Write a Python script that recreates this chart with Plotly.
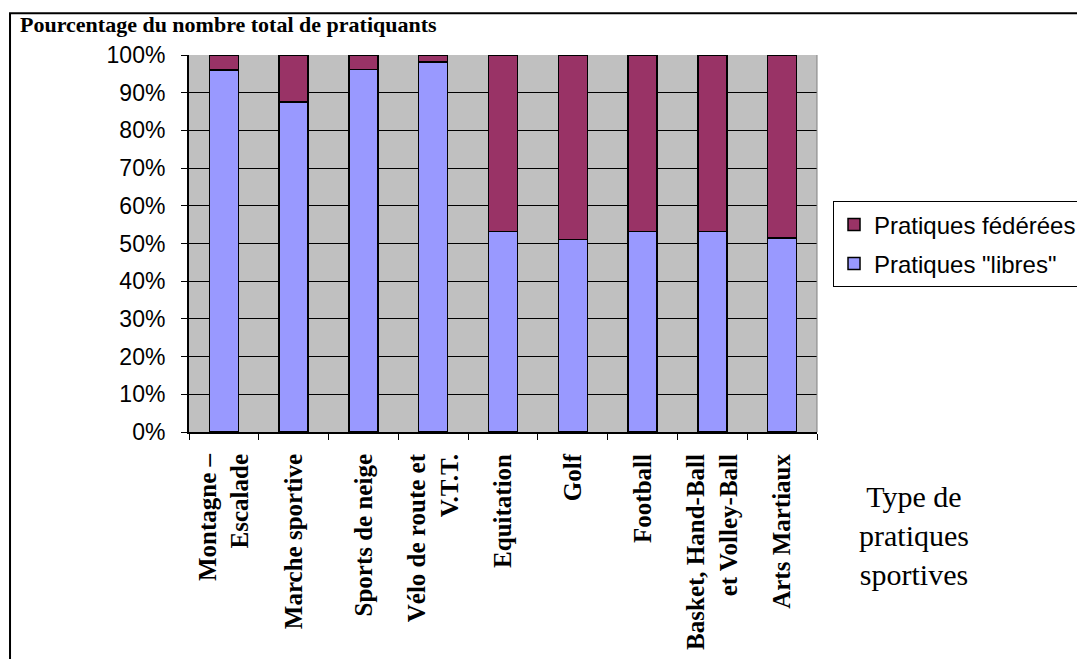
import plotly.graph_objects as go

categories = [
    "Montagne –<br>Escalade",
    "Marche sportive",
    "Sports de neige",
    "Vélo de route et<br>V.T.T.",
    "Equitation",
    "Golf",
    "Football",
    "Basket, Hand-Ball<br>et Volley-Ball",
    "Arts Martiaux",
]
libres = [96.0, 87.6, 96.2, 98.2, 53.2, 51.1, 53.2, 53.2, 51.5]
federees = [4.0, 12.4, 3.8, 1.8, 46.8, 48.9, 46.8, 46.8, 48.5]
y_ticks = [0, 10, 20, 30, 40, 50, 60, 70, 80, 90, 100]
y_tick_labels = ["0%", "10%", "20%", "30%", "40%", "50%", "60%", "70%", "80%", "90%", "100%"]

SERIF = "Liberation Serif, Times New Roman, serif"
SANS = "Liberation Sans, Arial, sans-serif"

fig = go.Figure()
fig.add_trace(go.Bar(
    x=categories, y=libres, name='Pratiques "libres"', legendgroup="b",
    legendrank=2,
    marker=dict(color="#9999FF", line=dict(color="black", width=1.5)),
))
fig.add_trace(go.Bar(
    x=categories, y=federees, name="Pratiques fédérées", legendgroup="a",
    legendrank=1,
    marker=dict(color="#993366", line=dict(color="black", width=1.5)),
))

# the page body adds an 8px margin, so the figure is 8px smaller and shifted
fig.update_layout(
    width=1077, height=651,
    barmode="stack", bargap=0.585,
    paper_bgcolor="white", plot_bgcolor="#C0C0C0",
    margin=dict(l=181, r=268, t=47, b=227, autoexpand=False),
    showlegend=True,
    legend=dict(
        x=1.0255, y=0.612, xanchor="left", yanchor="top",
        traceorder="grouped", tracegroupgap=5,
        font=dict(family=SANS, size=24, color="black"),
        bordercolor="black", borderwidth=1, bgcolor="white",
        itemclick=False,
    ),
    xaxis=dict(
        tickangle=-90, tickson="boundaries", ticks="outside", ticklen=6,
        tickcolor="black", showline=True, linecolor="black", linewidth=2,
        showgrid=False, ticklabelstandoff=10,
        tickfont=dict(family=SERIF, size=25, color="black", weight="bold"),
    ),
    yaxis=dict(
        range=[0, 100], tickvals=y_ticks, ticktext=y_tick_labels,
        ticks="outside", ticklen=6, tickcolor="black",
        showline=True, linecolor="black", linewidth=2,
        showgrid=True, gridcolor="black", gridwidth=1, zeroline=False,
        ticklabelstandoff=11,
        tickfont=dict(family=SANS, size=23, color="black"),
    ),
    shapes=[
        dict(type="rect", xref="paper", yref="paper",
             x0=-0.285, x1=1.5, y0=-0.8, y1=1.111,
             line=dict(color="black", width=2), fillcolor="rgba(0,0,0,0)",
             layer="below"),
        dict(type="line", xref="paper", yref="paper",
             x0=1, x1=1, y0=0, y1=1, line=dict(color="#808080", width=1)),
    ],
    annotations=[
        dict(text="<b>Pourcentage du nombre total de pratiquants</b>",
             xref="paper", yref="paper", x=-0.272, y=1.082,
             xanchor="left", yanchor="middle", showarrow=False,
             font=dict(family=SERIF, size=22, color="black")),
        dict(text="Type de<br>pratiques<br>sportives",
             xref="paper", yref="paper", x=1.154, y=-0.274,
             xanchor="center", yanchor="middle", showarrow=False,
             font=dict(family=SERIF, size=30, color="black")),
    ],
)

fig.write_html("out.html")
